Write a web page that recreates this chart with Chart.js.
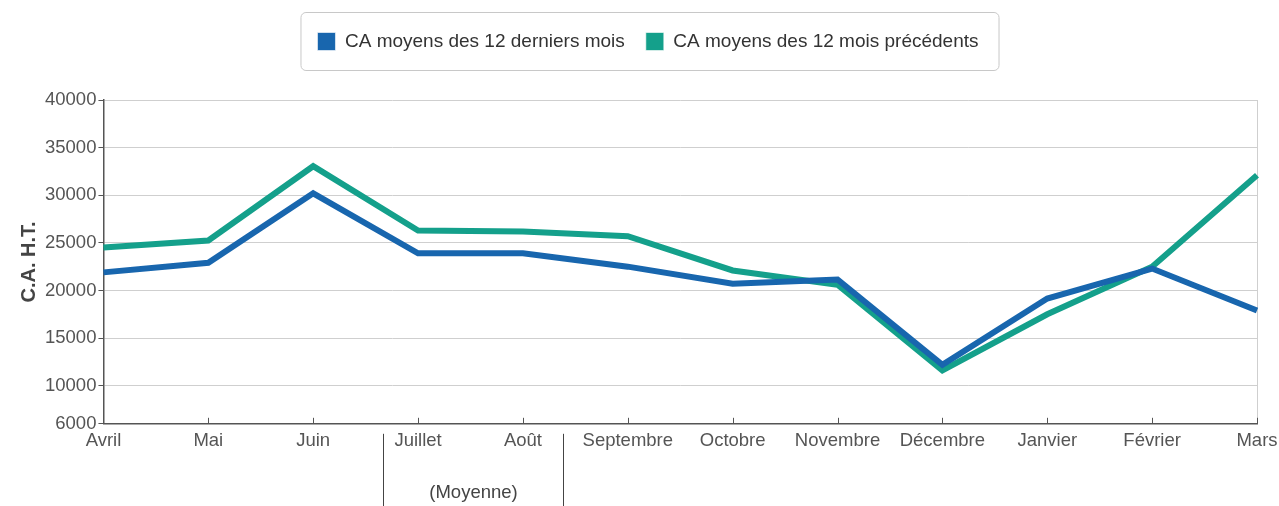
<!DOCTYPE html>
<html>
<head>
<meta charset="utf-8">
<script src="https://cdn.jsdelivr.net/npm/chart.js@4.4.0/dist/chart.umd.min.js"></script>
<style>
  html, body { margin: 0; padding: 0; background: #fff; }
  #wrap { width: 1279px; height: 506px; }
</style>
</head>
<body>
<div id="wrap"><canvas id="myChart" width="1279" height="506"></canvas></div>
<script>
// data
const months = ['Avril', 'Mai', 'Juin', 'Juillet', 'Août', 'Septembre', 'Octobre', 'Novembre', 'Décembre', 'Janvier', 'Février', 'Mars']
const last12 = [21900, 22900, 30200, 23900, 23900, 22500, 20700, 21150, 12200, 19150, 22300, 17900]
const prev12 = [24500, 25250, 33050, 26300, 26200, 25700, 22100, 20600, 11600, 17500, 22500, 32100]
const yTicks = [6000, 10000, 15000, 20000, 25000, 30000, 35000, 40000]
const averageGroup = ['Juillet', 'Août']
const averageLabel = '(Moyenne)'

const FONT = "'Liberation Sans', Arial, sans-serif"
const TEXT = '#555'

// extra room under the legend
const legendSpace = {
  id: 'legendSpace',
  beforeInit(chart) {
    const fit = chart.legend.fit
    chart.legend.fit = function () {
      fit.bind(chart.legend)()
      this.height += 39
    }
  }
}

// frame round the legend + small x ticks + the (Moyenne) bracket
const extras = {
  id: 'extras',
  afterDraw(chart) {
    const c = chart.ctx
    const lg = chart.legend
    if (lg && lg.legendHitBoxes.length) {
      const boxes = lg.legendHitBoxes
      const l = Math.min(...boxes.map(b => b.left)) - 17
      const r = Math.max(...boxes.map(b => b.left + b.width)) + 20
      const t = boxes[0].top - 20
      const b = boxes[0].top + boxes[0].height + 19
      c.save()
      c.strokeStyle = '#c8c8c8'
      c.lineWidth = 1
      c.beginPath()
      c.roundRect(l + 0.5, t + 0.5, r - l, b - t, 5)
      c.stroke()
      c.restore()
    }
    const x = chart.scales.x
    const area = chart.chartArea
    c.save()
    c.strokeStyle = '#555'
    c.lineWidth = 1
    months.forEach((m, i) => {
      const px = Math.round(x.getPixelForValue(i)) + 0.5
      c.beginPath()
      c.moveTo(px, area.bottom)
      c.lineTo(px, area.bottom - 6)
      c.stroke()
    })
    // bracket under the averaged months
    const i0 = months.indexOf(averageGroup[0])
    const i1 = months.indexOf(averageGroup[averageGroup.length - 1])
    const step = x.getPixelForValue(1) - x.getPixelForValue(0)
    const xl = Math.round(x.getPixelForValue(i0) - step * 0.33) + 0.5
    const xr = Math.round(x.getPixelForValue(i1) + step * 0.38) + 0.5
    c.strokeStyle = '#444'
    c.beginPath()
    c.moveTo(xl, area.bottom + 10); c.lineTo(xl, chart.height)
    c.moveTo(xr, area.bottom + 10); c.lineTo(xr, chart.height)
    c.stroke()
    c.fillStyle = '#444'
    c.font = '18.5px ' + FONT
    c.textAlign = 'center'
    c.textBaseline = 'middle'
    c.fillText(averageLabel, (xl + xr) / 2, area.bottom + 69)
    c.restore()
  }
}

function updateGraph() {
  const ctx = document.getElementById('myChart').getContext('2d')
  new Chart(ctx, {
    type: 'line',
    data: {
      labels: months,
      datasets: [{
        label: 'CA moyens des 12 derniers mois',
        data: last12,
        borderColor: '#1866ae',
        backgroundColor: '#1866ae',
        borderWidth: 6,
        pointRadius: 0,
        tension: 0
      }, {
        label: 'CA moyens des 12 mois précédents',
        data: prev12,
        borderColor: '#14a08b',
        backgroundColor: '#14a08b',
        borderWidth: 6,
        pointRadius: 0,
        tension: 0
      }]
    },
    options: {
      responsive: false,
      animation: false,
      layout: { padding: { top: 11, bottom: 48, left: 17, right: 0 } },
      plugins: {
        legend: {
          position: 'top',
          labels: {
            boxWidth: 18,
            boxHeight: 18,
            padding: 21,
            color: '#333',
            font: { family: FONT, size: 19 },
            generateLabels(chart) {
              return chart.data.datasets.map((d, i) => ({
                text: d.label, fillStyle: d.borderColor, strokeStyle: 'rgba(255,255,255,0.6)',
                lineWidth: 1, datasetIndex: i, fontColor: '#333'
              }))
            }
          }
        },
        tooltip: { enabled: false }
      },
      scales: {
        x: {
          afterFit(axis) { axis.paddingRight = 22 },
          grid: {
            drawOnChartArea: true,
            drawTicks: false,
            color: c => c.index === months.length - 1 ? '#cfcfcf' : 'transparent'
          },
          border: { color: '#555', width: 1.5 },
          ticks: { color: TEXT, font: { family: FONT, size: 18.5 }, padding: 6, maxRotation: 0, autoSkip: false }
        },
        y: {
          min: 6000,
          max: 40000,
          afterBuildTicks(axis) { axis.ticks = yTicks.map(v => ({ value: v })) },
          grid: { color: '#cfcfcf', tickLength: 5, tickColor: '#555' },
          border: { color: '#555', width: 1.5 },
          ticks: { color: TEXT, font: { family: FONT, size: 18.5 }, padding: 2, callback: v => String(v) },
          title: {
            display: true,
            text: 'C.A. H.T.',
            color: '#444',
            font: { family: FONT, size: 20, weight: 'bold' },
            padding: { top: 0, bottom: 2 }
          }
        }
      }
    },
    plugins: [legendSpace, extras]
  })
}

updateGraph()
</script>
</body>
</html>
